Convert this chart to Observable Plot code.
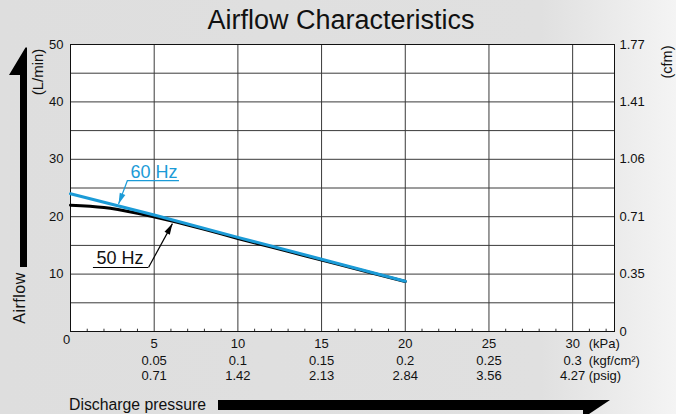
<!DOCTYPE html>
<html>
<head>
<meta charset="utf-8">
<script src="https://cdn.jsdelivr.net/npm/d3@7"></script>
<script src="https://cdn.jsdelivr.net/npm/@observablehq/plot@0.6"></script>
<style>
  html, body { margin: 0; padding: 0; }
  #wrap {
    position: relative; width: 676px; height: 414px; overflow: hidden;
    background: linear-gradient(to right, #dedede 0%, #e0e0e0 80%, #f4f4f4 100%);
    font-family: "Liberation Sans", Arial, Helvetica, sans-serif; color: #111;
  }
  #wrap svg.plot { position: absolute; left: 0; top: 0; }
  .lbl { position: absolute; white-space: nowrap; line-height: 1; }
  #title { left: 0; width: 682px; text-align: center; top: 7px; font-size: 27px; }
  #deco { position: absolute; left: 0; top: 0; }
</style>
</head>
<body>
<div id="wrap">
  <div class="lbl" id="title">Airflow Characteristics</div>
</div>
<script>
// ---- data ----
const pressure60 = [0, 5, 10, 15, 20];          // kPa
const airflow60  = [24.0, 20.3, 16.4, 12.6, 8.75]; // L/min
const pressure50 = [0, 2, 4, 6, 8, 10, 12, 14, 16, 18, 20];
const airflow50  = [22.0, 21.6, 20.6, 19.3, 17.8, 16.2, 14.7, 13.2, 11.7, 10.2, 8.7];

const kPaTicks   = [5, 10, 15, 20, 25, 30];
const kgfLabels  = ["0.05", "0.1", "0.15", "0.2", "0.25", "0.3"];
const psigLabels = ["0.71", "1.42", "2.13", "2.84", "3.56", "4.27"];
const lminTicks  = [10, 20, 30, 40, 50];
const cfmTicks   = [0, 10, 20, 30, 40, 50];
const cfmLabels  = ["0", "0.35", "0.71", "1.06", "1.41", "1.77"];
const gridXVals  = [5, 10, 15, 20, 25, 30];
const gridYVals  = [5, 10, 15, 20, 25, 30, 35, 40, 45];
const minorX     = d3.range(1, 33).filter(v => v % 5 !== 0);
const unitKPa    = ["(kPa)"];
const unitKgf    = ["(kgf/cm²)"];
const unitPsig   = ["(psig)"];

// annotation anchors (data coordinates)
const note60 = {text: "60 Hz", tx: 4.99, ty: 27.7, u1: 3.40, u2: 6.51, uy: 26.3, tipX: 2.87, tipY: 22.2, rot: 201.4};
const note50 = {text: "50 Hz", tx: 2.96, ty: 12.7, u1: 1.37, u2: 4.66, uy: 11.15, tipX: 6.09, tipY: 18.8, rot: 28.6};

const BLUE = "#1b9bd7";
const s60 = pressure60.map((x, i) => ({x, y: airflow60[i]}));
const s50 = pressure50.map((x, i) => ({x, y: airflow50[i]}));
const notes = [note60, note50];
const ROW1 = 16.5, ROW2 = 33, ROW3 = 48;

const chart = Plot.plot({
  width: 676, height: 414,
  marginLeft: 70, marginRight: 62, marginTop: 44, marginBottom: 83,
  style: {background: "transparent", fontFamily: "'Liberation Sans', Arial, Helvetica, sans-serif", fontSize: "13px", color: "#111", overflow: "visible"},
  x: {domain: [0, 32.5], axis: null},
  y: {domain: [0, 50], axis: null},
  marks: [
    Plot.frame({fill: "white", stroke: "none"}),
    Plot.ruleY([0], {x1: 0, x2: 27.5, stroke: "#1f5c99", strokeWidth: 1}),
    Plot.ruleX(minorX, {y1: 0, y2: 0.4, stroke: "#333"}),
    Plot.ruleX(gridXVals, {stroke: "#3a3a3a", strokeWidth: 1}),
    Plot.ruleY(gridYVals, {stroke: "#3a3a3a", strokeWidth: 1}),
    Plot.frame({stroke: "#111", strokeWidth: 1}),
    Plot.line(s50, {x: "x", y: "y", stroke: "#000", strokeWidth: 3, curve: "monotone-x"}),
    Plot.line(s60, {x: "x", y: "y", stroke: BLUE, strokeWidth: 3}),
    // annotations
    Plot.ruleY(notes, {x1: "u1", x2: "u2", y: "uy", stroke: (d) => d === note60 ? BLUE : "#000", strokeWidth: 1.2}),
    Plot.link(notes, {x1: d => d === note60 ? d.u1 : d.u2, y1: "uy", x2: "tipX", y2: "tipY", stroke: d => d === note60 ? BLUE : "#000", strokeWidth: 1.2}),
    Plot.vector(notes, {x: "tipX", y: "tipY", rotate: "rot", length: 11, r: 3, shape: "spike", anchor: "end",
      fill: d => d === note60 ? BLUE : "#000", stroke: "none"}),
    Plot.text(notes, {x: "tx", y: "ty", text: "text", fontSize: 18, fill: d => d === note60 ? BLUE : "#111"}),
    // tick labels
    Plot.text(lminTicks, {y: d => d, text: d => String(d), frameAnchor: "left", textAnchor: "end", dx: -7}),
    Plot.text(cfmTicks, {y: d => d, text: (d, i) => cfmLabels[i], frameAnchor: "right", textAnchor: "start", dx: 5}),
    Plot.text(kPaTicks, {x: d => d, text: d => String(d), frameAnchor: "bottom", dy: ROW1}),
    Plot.text(kPaTicks, {x: d => d, text: (d, i) => kgfLabels[i], frameAnchor: "bottom", dy: ROW2}),
    Plot.text(kPaTicks, {x: d => d, text: (d, i) => psigLabels[i], frameAnchor: "bottom", dy: ROW3}),
    Plot.text([0], {x: d => d, text: ["0"], frameAnchor: "bottom", dx: -4, dy: 12}),
    Plot.text(unitKPa, {x: () => 30, text: d => d, frameAnchor: "bottom", textAnchor: "start", dx: 16, dy: ROW1}),
    Plot.text(unitKgf, {x: () => 30, text: d => d, frameAnchor: "bottom", textAnchor: "start", dx: 16, dy: ROW2}),
    Plot.text(unitPsig, {x: () => 30, text: d => d, frameAnchor: "bottom", textAnchor: "start", dx: 16, dy: ROW3})
  ]
});
chart.classList.add("plot");
const wrap = document.getElementById("wrap");
wrap.appendChild(chart);

// decorations: axis-name arrows and labels
const NS = "http://www.w3.org/2000/svg";
const deco = document.createElementNS(NS, "svg");
deco.setAttribute("id", "deco");
deco.setAttribute("width", 676);
deco.setAttribute("height", 414);
deco.innerHTML = `
  <polygon points="9,75 25.5,47.5 27,47.5 27,267 20,267 20,75" fill="#000"/>
  <polygon points="218,400 610,400 583,418 583,410 218,410" fill="#000"/>
  <g font-family="'Liberation Sans', Arial, Helvetica, sans-serif" fill="#111">
    <text transform="translate(43,72) rotate(-90)" text-anchor="middle" font-size="15">(L/min)</text>
    <text transform="translate(672,62) rotate(-90)" text-anchor="middle" font-size="14.5">(cfm)</text>
    <text transform="translate(25,298) rotate(-90)" text-anchor="middle" font-size="16" letter-spacing="0.5">Airflow</text>
    <text x="69" y="410" font-size="15.8">Discharge pressure</text>
  </g>`;
wrap.appendChild(deco);
</script>
</body>
</html>
